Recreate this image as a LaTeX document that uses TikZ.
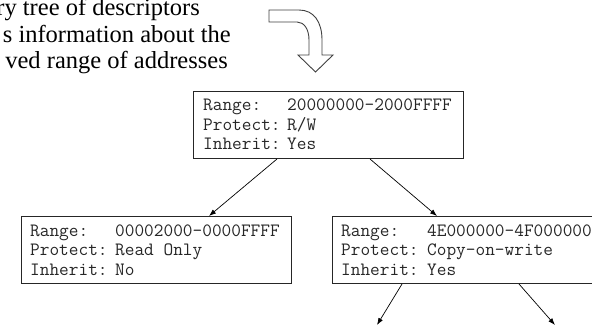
\documentclass[tikz,border=0pt]{standalone}
\usepackage{fontspec}
\setmainfont{Liberation Serif}
\usetikzlibrary{arrows.meta,calc}
\begin{document}
\begin{tikzpicture}[x=1pt,y=-1pt,
  descbox/.style={draw=black!85, line width=1pt, anchor=north west, minimum width=270pt, minimum height=67pt, inner sep=0pt},
  fieldtxt/.style={anchor=base west, inner sep=0pt, font=\ttfamily\fontsize{18.8}{19}\selectfont, text=black!85},
  captxt/.style={anchor=base east, inner sep=0pt, font=\fontsize{24.5}{29}\selectfont},
  link/.style={line width=0.7pt, -{Latex[length=7pt,width=5pt]}},
  bigarrow/.style={draw=black!75, line width=0.9pt, fill=white}]
\useasboundingbox (0,0) rectangle (592,327);
\clip (0,0) rectangle (592,327);

% caption
\node[captxt] (cap1) at (200,15) {ry tree of descriptors};
\node[captxt] (cap2) at (231,42) {s information about the};
\node[captxt] (cap3) at (228,68) {ved range of addresses};

% curved arrow
\draw[bigarrow] (269,10) -- (299,10) .. controls (314,10) and (322,22) .. (322,40)
  -- (322,55) -- (333,55) -- (315.5,72) -- (298,55) -- (309,55) -- (309,40)
  .. controls (309,29) and (304,22) .. (297,22) -- (269,22) -- cycle;

% boxes
\node[descbox] (b1) at (193,91) {};
\node[descbox] (b2) at (21,216) {};
\node[descbox] (b3) at (332,216) {};

\node[fieldtxt] (b1l1) at ($(b1.north west)+(10,19.5)$) {Range:};
\node[fieldtxt] (b1l2) at ($(b1.north west)+(10,39)$) {Protect:};
\node[fieldtxt] (b1l3) at ($(b1.north west)+(10,58.5)$) {Inherit:};
\node[fieldtxt] (b1v1) at ($(b1.north west)+(94,19.5)$) {20000000-2000FFFF};
\node[fieldtxt] (b1v2) at ($(b1.north west)+(94,39)$) {R/W};
\node[fieldtxt] (b1v3) at ($(b1.north west)+(94,58.5)$) {Yes};

\node[fieldtxt] (b2l1) at ($(b2.north west)+(9,20)$) {Range:};
\node[fieldtxt] (b2l2) at ($(b2.north west)+(9,39.5)$) {Protect:};
\node[fieldtxt] (b2l3) at ($(b2.north west)+(9,59)$) {Inherit:};
\node[fieldtxt] (b2v1) at ($(b2.north west)+(94,20)$) {00002000-0000FFFF};
\node[fieldtxt] (b2v2) at ($(b2.north west)+(94,39.5)$) {Read Only};
\node[fieldtxt] (b2v3) at ($(b2.north west)+(94,59)$) {No};

\node[fieldtxt] (b3l1) at ($(b3.north west)+(9,20)$) {Range:};
\node[fieldtxt] (b3l2) at ($(b3.north west)+(9,39.5)$) {Protect:};
\node[fieldtxt] (b3l3) at ($(b3.north west)+(9,59)$) {Inherit:};
\node[fieldtxt] (b3v1) at ($(b3.north west)+(95,20)$) {4E000000-4F000000};
\node[fieldtxt] (b3v2) at ($(b3.north west)+(95,39.5)$) {Copy-on-write};
\node[fieldtxt] (b3v3) at ($(b3.north west)+(95,59)$) {Yes};

% connectors
\coordinate (e1) at (377,325);
\coordinate (e2) at (555,325);
\draw[link] ($(b1.south west)+(84,0)$) -- ($(b2.north west)+(188,0)$);
\draw[link] ($(b1.south west)+(177,0)$) -- ($(b3.north west)+(105,0)$);
\draw[link] ($(b3.south west)+(70,0)$) -- (e1);
\draw[link] ($(b3.south west)+(187,0)$) -- (e2);
\end{tikzpicture}
\end{document}
